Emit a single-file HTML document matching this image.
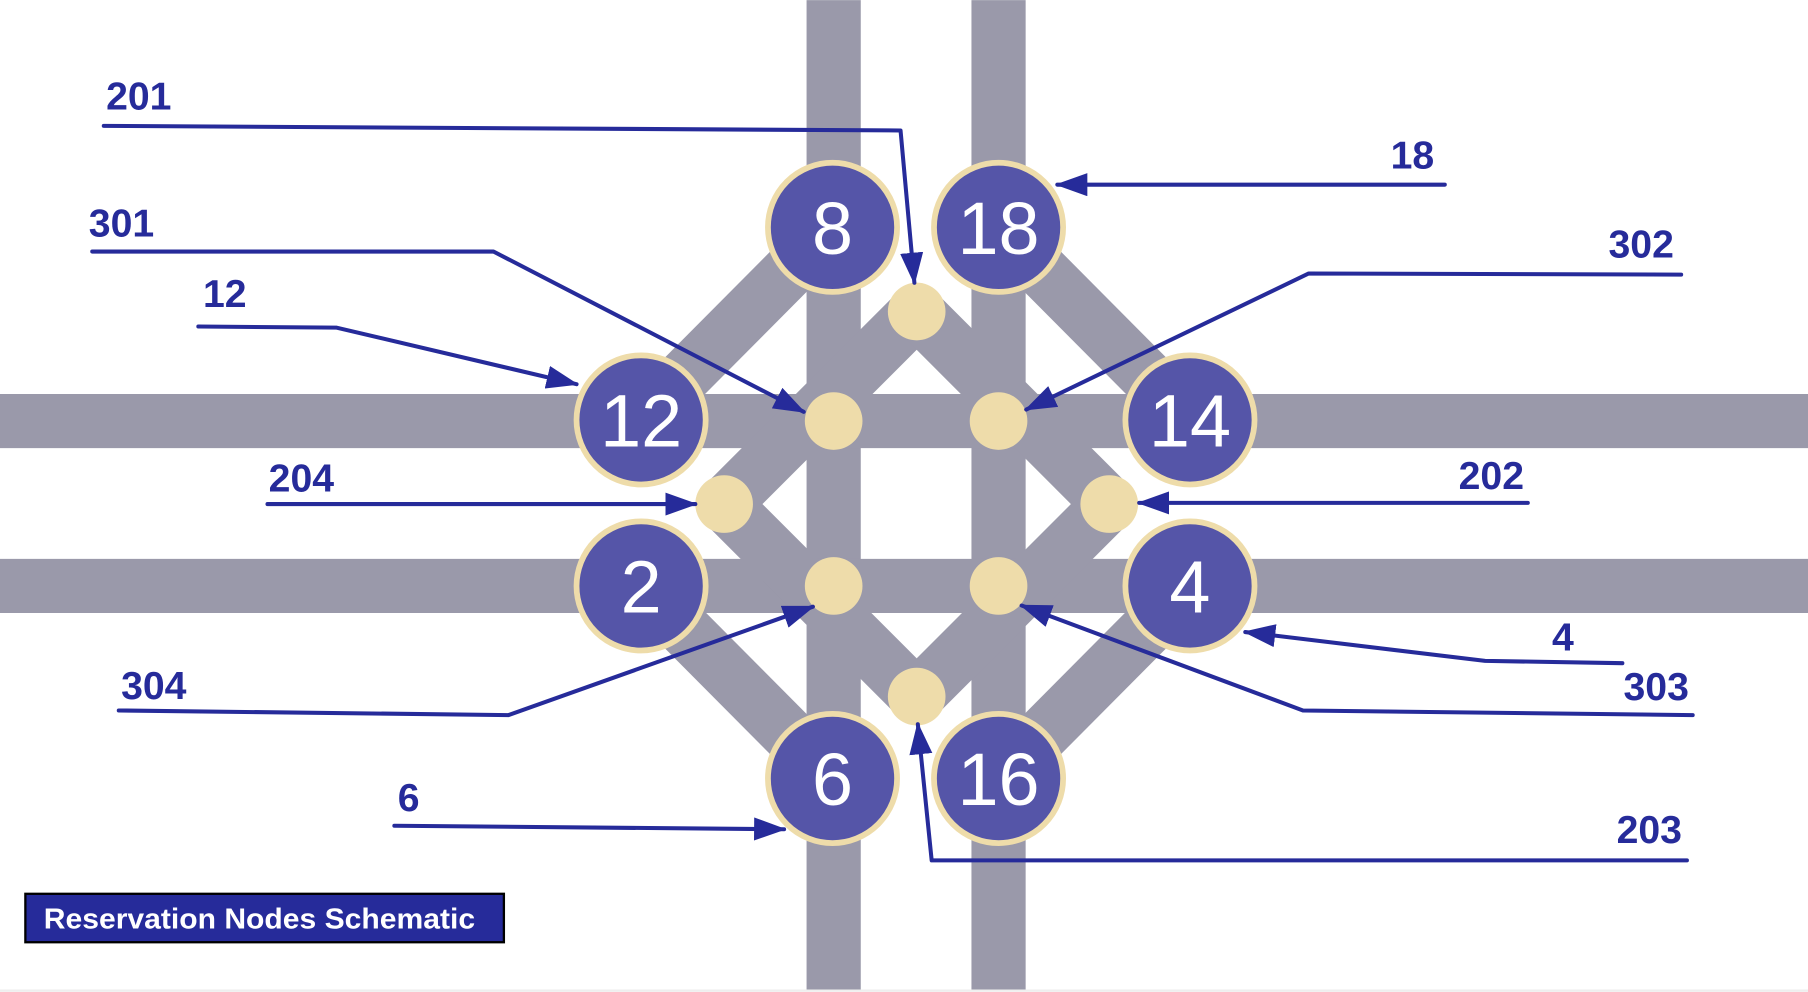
<!DOCTYPE html>
<html><head><meta charset="utf-8"><style>
html,body{margin:0;padding:0;background:#fff;}
svg{display:block;}
.lbl{font-family:"Liberation Sans",sans-serif;font-weight:bold;font-size:34px;fill:#262b9a;}
.num{font-family:"Liberation Sans",sans-serif;font-size:64px;fill:#fff;text-anchor:middle;}
.co{fill:none;stroke:#262b9a;stroke-width:3.5;stroke-linejoin:round;stroke-linecap:round;}
</style></head><body>
<svg id="s" width="1808" height="992" viewBox="0 0 1568 860">
<defs><marker id="ar" markerWidth="28" markerHeight="20" refX="26" refY="10" orient="auto" markerUnits="userSpaceOnUse" viewBox="0 0 28 20">
<path d="M0,0 L28,10 L0,20 z" fill="#262b9a"/></marker></defs>
<rect x="0" y="858" width="1568" height="2" fill="#eee"/>
<g id="roads"></g>
<g id="nodes"></g>
<g id="callouts"></g>
<g>
<rect x="22" y="775" width="415" height="42" fill="#262b9a" stroke="#000" stroke-width="2"/>
<text x="38" y="805" font-family="Liberation Sans,sans-serif" font-weight="bold" font-size="25" fill="#fff" textLength="374" lengthAdjust="spacingAndGlyphs">Reservation Nodes Schematic</text>
</g>
</svg>
<script>
const bigNodes=[["8",722,197],["18",866,197],["12",556,364],["14",1032,364],["2",556,508],["4",1032,508],["6",722,675],["16",866,675]];
const smallNodes=[["201",795,270],["301",723,365],["302",866,365],["204",628,437],["202",962,437],["304",723,508],["303",866,508],["203",795,604]];
const callouts=[
["201",92,95,[[90,109],[781,113],[793,245]]],
["301",77,205,[[80,218],[428,218],[697,357]]],
["12",176,266,[[172,283],[292,284],[500,333]]],
["204",233,426,[[232,437],[603,437]]],
["304",105,606,[[103,616],[441,620],[705,526]]],
["6",345,703,[[342,716],[680,719]]],
["18",1206,146,[[1253,160],[917,160]]],
["302",1395,223,[[1458,238],[1135,237],[890,355]]],
["202",1265,424,[[1325,436],[988,436]]],
["4",1346,564,[[1407,575],[1288,573],[1080,548]]],
["303",1408,607,[[1468,620],[1130,616],[886,525]]],
["203",1402,731,[[1463,746],[808,746],[796,628]]]];
const NS="http://www.w3.org/2000/svg";
function mk(t,a,p){const e=document.createElementNS(NS,t);for(const k in a)e.setAttribute(k,a[k]);p.appendChild(e);return e;}
const R=document.getElementById('roads');
const rc="#9a99aa";
const segs=[[723,0,723,858],[866,0,866,858],[0,365,1568,365],[0,508,1568,508],
[722,197,556,364],[866,197,1032,364],[556,508,722,675],[1032,508,866,675],
[795,270,628,437],[795,270,962,437],[628,437,795,604],[962,437,795,604]];
segs.forEach(s=>{const l=mk('line',{x1:s[0],y1:s[1],x2:s[2],y2:s[3],stroke:rc,'stroke-width':47},R);

});
const N=document.getElementById('nodes');
bigNodes.forEach(n=>{const g=mk('g',{},N);


mk('circle',{cx:n[1],cy:n[2],r:56,fill:'#5555a8',stroke:'#eedcaa','stroke-width':5},g);
const t=mk('text',{x:n[1],y:n[2]+23,class:'num'},g);t.textContent=n[0];});
smallNodes.forEach(n=>{const c=mk('circle',{cx:n[1],cy:n[2],r:25,fill:'#eedcaa'},N);

});
const C=document.getElementById('callouts');
callouts.forEach(c=>{const g=mk('g',{},C);


const t=mk('text',{x:c[1],y:c[2],class:'lbl'},g);t.textContent=c[0];
mk('polyline',{points:c[3].map(p=>p.join(',')).join(' '),class:'co','marker-end':'url(#ar)'},g);});
</script>
</body></html>
